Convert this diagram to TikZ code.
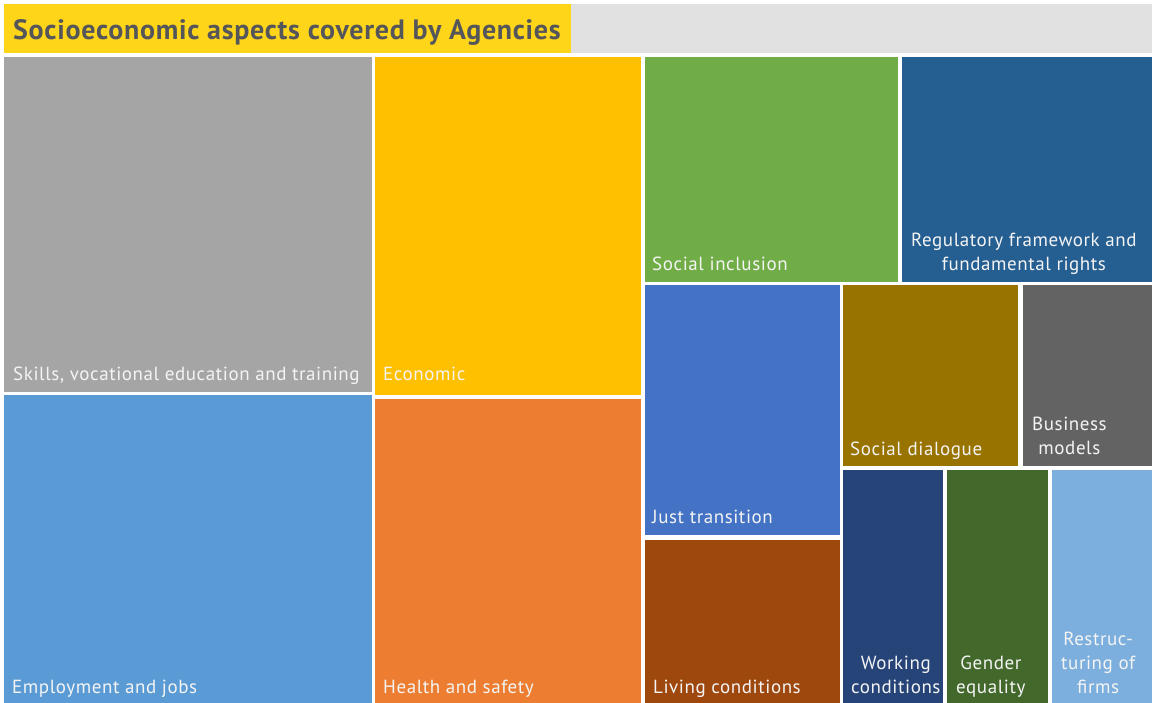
\documentclass[tikz,border=0pt]{standalone}
\usepackage{fontspec}
\setmainfont{PT Sans}
\newfontfamily\labfont[LetterSpace=3.0]{PT Sans}
\newfontfamily\titlefont[LetterSpace=2.5]{PT Sans}
\usetikzlibrary{fit}
\definecolor{titleyellow}{HTML}{FFD51A}
\definecolor{titlebg}{HTML}{E1E1E1}
\definecolor{titletext}{HTML}{55565A}
\definecolor{labtext}{HTML}{F4F4F4}
\definecolor{cSkills}{HTML}{A5A5A5}
\definecolor{cEmploy}{HTML}{5B9BD5}
\definecolor{cEcon}{HTML}{FFC000}
\definecolor{cHealth}{HTML}{ED7D31}
\definecolor{cInclusion}{HTML}{70AD47}
\definecolor{cRegul}{HTML}{255E91}
\definecolor{cJust}{HTML}{4472C4}
\definecolor{cLiving}{HTML}{9E480E}
\definecolor{cDialogue}{HTML}{997300}
\definecolor{cBusiness}{HTML}{636363}
\definecolor{cWorking}{HTML}{264478}
\definecolor{cGender}{HTML}{43682B}
\definecolor{cRestruct}{HTML}{7CAFDD}
\begin{document}
\begin{tikzpicture}[x=1pt,y=-1pt,
  cell/.style={inner sep=0pt, outer sep=0pt, draw=none, fill=#1},
  lab/.style={text=labtext, font=\labfont\fontsize{19}{24}\selectfont, inner sep=0pt,
    align=center, anchor=south west}]
\useasboundingbox[fill=white] (0,0) rectangle (1152,703);
% title
\node[cell=titlebg, fit={(571,4) (1152,53)}] (titlebg) {};
\node[cell=titleyellow, fit={(4,4) (571,53)}] (titlebar) {};
\node[anchor=base west, inner sep=0pt, text=titletext,
  font=\titlefont\bfseries\fontsize{28}{32}\selectfont]
  (title) at ([shift={(9pt,13pt)}]titlebar.south west) {Socioeconomic aspects covered by Agencies};
% cells
\node[cell=cSkills, fit={(4,57) (372,392)}] (skills) {};
\node[cell=cEmploy, fit={(4,395) (372,704)}] (employ) {};
\node[cell=cEcon, fit={(375,57) (641,395)}] (econ) {};
\node[cell=cHealth, fit={(375,399) (641,704)}] (health) {};
\node[cell=cInclusion, fit={(645,57) (898,282)}] (inclusion) {};
\node[cell=cRegul, fit={(902,57) (1152,282)}] (regul) {};
\node[cell=cJust, fit={(645,285) (840,535)}] (just) {};
\node[cell=cLiving, fit={(645,540) (840,704)}] (living) {};
\node[cell=cDialogue, fit={(843,285) (1018,466)}] (dialogue) {};
\node[cell=cBusiness, fit={(1023,285) (1152,466)}] (business) {};
\node[cell=cWorking, fit={(843,470) (943,704)}] (working) {};
\node[cell=cGender, fit={(947,470) (1048,704)}] (gender) {};
\node[cell=cRestruct, fit={(1052,470) (1152,704)}] (restruct) {};
% labels
\node[lab] (lskills) at ([shift={(9pt,4.5pt)}]skills.south west) {Skills, vocational education and training\strut};
\node[lab] (lemploy) at ([shift={(8pt,3.5pt)}]employ.south west) {Employment and jobs\strut};
\node[lab] (lecon) at ([shift={(8pt,7pt)}]econ.south west) {Economic\strut};
\node[lab] (lhealth) at ([shift={(8pt,3.5pt)}]health.south west) {Health and safety\strut};
\node[lab] (linclusion) at ([shift={(7pt,4.5pt)}]inclusion.south west) {Social inclusion\strut};
\node[lab] (lregul) at ([shift={(9pt,4.5pt)}]regul.south west) {Regulatory framework and\\fundamental rights\strut};
\node[lab] (ljust) at ([shift={(7pt,4.5pt)}]just.south west) {Just transition\strut};
\node[lab] (lliving) at ([shift={(8pt,3.5pt)}]living.south west) {Living conditions\strut};
\node[lab] (ldialogue) at ([shift={(7pt,3.5pt)}]dialogue.south west) {Social dialogue\strut};
\node[lab] (lbusiness) at ([shift={(9pt,4.5pt)}]business.south west) {Business\\models\strut};
\node[lab] (lworking) at ([shift={(8pt,3.5pt)}]working.south west) {Working\\conditions\strut};
\node[lab] (lgender) at ([shift={(9pt,3.5pt)}]gender.south west) {Gender\\equality\strut};
\node[lab] (lrestruct) at ([shift={(9pt,3.5pt)}]restruct.south west) {Restruc-\\turing of\\firms\strut};
\end{tikzpicture}
\end{document}
